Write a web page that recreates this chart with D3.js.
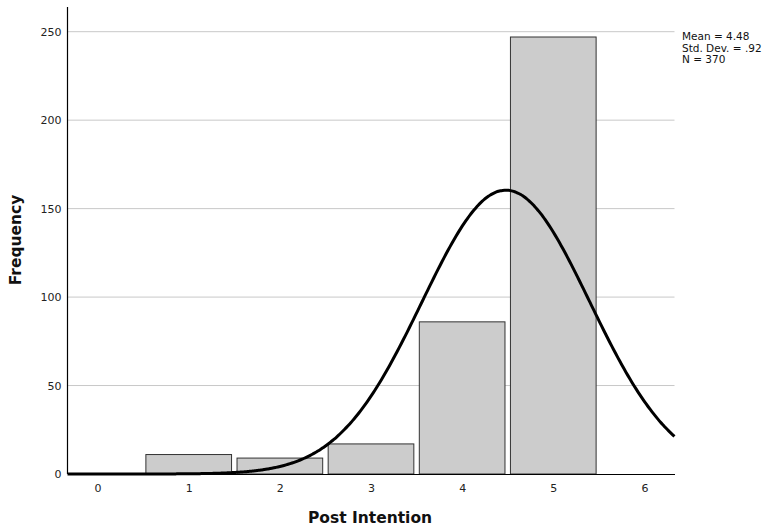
<!DOCTYPE html>
<html><head><meta charset="utf-8">
<script src="https://cdn.jsdelivr.net/npm/d3@7"></script>
<style>body{margin:0;background:#fff;}svg{display:block;font-family:"DejaVu Sans",sans-serif;}</style>
</head><body><svg id="c" width="764" height="528"></svg>
<script>
const categories = [1, 2, 3, 4, 5];
const frequencies = [11, 9, 17, 86, 247];
const xTicks = [0, 1, 2, 3, 4, 5, 6];
const yTicks = [0, 50, 100, 150, 200, 250];
const statLabels = ["Mean = 4.48", "Std. Dev. = .92", "N = 370"];
const meanVal = 4.48, sdVal = 0.92, nVal = 370;

const svg = d3.select("#c");
const x = d3.scaleLinear().domain([-0.33, 6.33]).range([67.5, 674.5]);
const y = d3.scaleLinear().domain([0, 250]).range([474, 31.7]);

// gridlines
svg.append("g").selectAll("line").data(yTicks.filter(d => d > 0)).join("line")
  .attr("x1", x(-0.33)).attr("x2", x(6.33))
  .attr("y1", d => y(d)).attr("y2", d => y(d))
  .attr("stroke", "#c8c8c8").attr("stroke-width", 1);

// bars
svg.append("g").selectAll("rect").data(categories).join("rect")
  .attr("x", (d) => x(d - 0.47))
  .attr("width", x(0.94) - x(0))
  .attr("y", (d, i) => y(frequencies[i]))
  .attr("height", (d, i) => y(0) - y(frequencies[i]))
  .attr("fill", "#cccccc").attr("stroke", "#333").attr("stroke-width", 1);

// normal curve
const pts = d3.range(0, 301).map(i => {
  const xv = -0.33 + i * (6.66 / 300);
  const z = (xv - meanVal) / sdVal;
  return [xv, nVal / (sdVal * Math.sqrt(2 * Math.PI)) * Math.exp(-0.5 * z * z)];
});
svg.append("path").datum(pts)
  .attr("d", d3.line().x(d => x(d[0])).y(d => y(d[1])).curve(d3.curveBasis))
  .attr("fill", "none").attr("stroke", "#000").attr("stroke-width", 3);

// axes
const xAxis = svg.append("g").attr("transform", `translate(0,${y(0)})`)
  .call(d3.axisBottom(x).tickValues(xTicks).tickFormat(d3.format("d")).tickSize(0).tickPadding(10));
const yAxis = svg.append("g").attr("transform", `translate(${x(-0.33)},0)`)
  .call(d3.axisLeft(y).tickValues(yTicks).tickFormat(d3.format("d")).tickSize(0).tickPadding(6));
[xAxis, yAxis].forEach(g => {
  g.select(".domain").attr("stroke", "#000").attr("stroke-width", 1.2);
  g.selectAll("text").attr("font-size", 11).attr("fill", "#222").attr("font-family", "DejaVu Sans, sans-serif");
});
yAxis.select(".domain").attr("d", `M0,7V${y(0)}`);

// axis titles
svg.append("text").attr("x", 370).attr("y", 523).attr("text-anchor", "middle")
  .attr("font-size", 15.5).attr("font-weight", "bold").attr("fill", "#111").text("Post Intention");
svg.append("text").attr("transform", "translate(21,240) rotate(-90)").attr("text-anchor", "middle")
  .attr("font-size", 15.5).attr("font-weight", "bold").attr("fill", "#111").text("Frequency");

// stats
svg.append("g").selectAll("text").data(statLabels).join("text")
  .attr("x", 682).attr("y", (d, i) => 40 + i * 11.5)
  .attr("font-size", 10.5).attr("fill", "#111").text(d => d);
</script></body></html>
